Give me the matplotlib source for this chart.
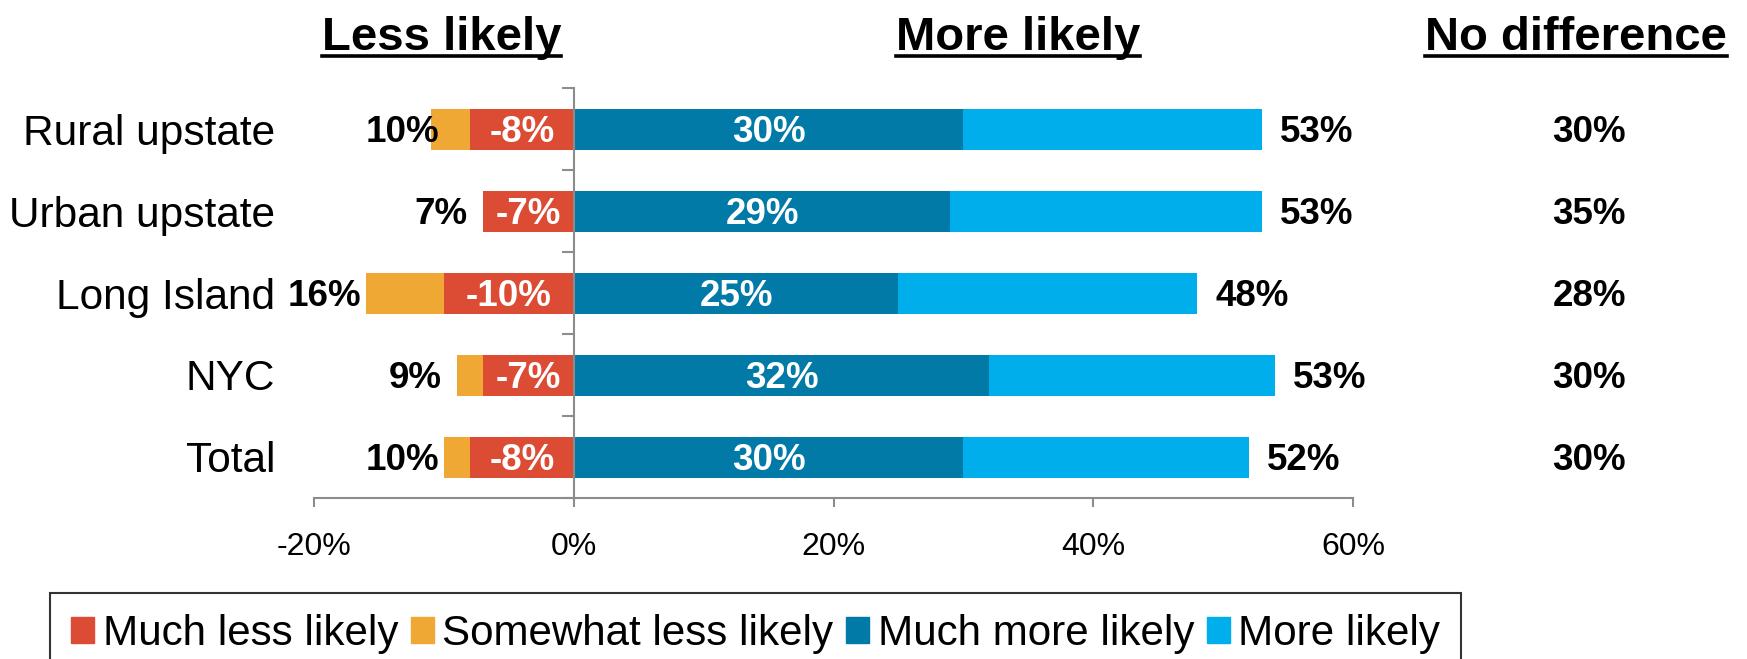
import numpy as np
import matplotlib
matplotlib.use("Agg")
import matplotlib.pyplot as plt
from matplotlib.lines import Line2D
from matplotlib.patches import Patch

plt.rcParams['font.family'] = ['Liberation Sans', 'DejaVu Sans']

# data (top to bottom)
regions = ["Rural upstate", "Urban upstate", "Long Island", "NYC", "Total"]
much_less = [8, 7, 10, 7, 8]
somewhat_less = [3, 0, 6, 2, 2]
much_more = [30, 29, 25, 32, 30]
more = [23, 24, 23, 22, 22]
less_total = [10, 7, 16, 9, 10]
more_total = [53, 53, 48, 53, 52]
no_diff = [30, 35, 28, 30, 30]

c_red = "#DC4B34"
c_orange = "#EEA833"
c_dark = "#017AA8"
c_light = "#00AEEC"
grey = "#8C8C8C"

y = np.arange(len(regions))
ml = -np.array(much_less)
sl = -np.array(somewhat_less)
mm = np.array(much_more)
mo = np.array(more)

fig = plt.figure(figsize=(17.47, 6.59), dpi=100)
ax = fig.add_axes([314/1747, 1-498/659, 1039/1747, 410/659])

h = 0.5
ax.barh(y, ml, height=h, color=c_red, edgecolor="none")
ax.barh(y, sl, left=ml, height=h, color=c_orange, edgecolor="none")
ax.barh(y, mm, height=h, color=c_dark, edgecolor="none")
ax.barh(y, mo, left=mm, height=h, color=c_light, edgecolor="none")

ax.set_xlim(-20, 60)
ax.set_ylim(len(regions) - 0.5, -0.5)

# axes look
for s in ["top", "right"]:
    ax.spines[s].set_visible(False)
ax.spines["left"].set_position(("data", 0))
ax.spines["left"].set_color(grey)
ax.spines["bottom"].set_color(grey)
ax.spines["left"].set_linewidth(1.5)
ax.spines["bottom"].set_linewidth(1.5)

ax.set_xticks([-20, 0, 20, 40, 60])
ax.set_xticklabels(["-20%", "0%", "20%", "40%", "60%"])
ax.tick_params(axis="x", length=6.5, width=1.5, color=grey, labelsize=23, pad=18)
ax.set_yticks(np.arange(len(regions) + 1) - 0.5)
ax.set_yticklabels([])
ax.tick_params(axis="y", length=8.5, width=1.5, color=grey)

# labels
fs = 26.5
for i in range(len(regions)):
    ax.text(-23, y[i], regions[i], ha="right", va="center_baseline", fontsize=30.5, clip_on=False)
    ax.text(ml[i] / 2, y[i], f"-{much_less[i]}%", ha="center", va="center_baseline",
            fontsize=fs, fontweight="bold", color="white")
    ax.text(mm[i] / 2, y[i], f"{much_more[i]}%", ha="center", va="center_baseline",
            fontsize=fs, fontweight="bold", color="white")
    ax.text(-less_total[i] - 3.2, y[i], f"{less_total[i]}%", ha="center", va="center_baseline",
            fontsize=fs, fontweight="bold")
    ax.text(mm[i] + mo[i] + 1.4, y[i], f"{more_total[i]}%", ha="left", va="center_baseline",
            fontsize=fs, fontweight="bold")
    ax.text(78.2, y[i], f"{no_diff[i]}%", ha="center", va="center_baseline",
            fontsize=fs, fontweight="bold", clip_on=False)

# headers with underline
trans = matplotlib.transforms.blended_transform_factory(ax.transData, fig.transFigure)
headers = []
for xh, txt in [(-10.2, "Less likely"), (34.2, "More likely"), (77.2, "No difference")]:
    headers.append(ax.text(xh, 1 - 50/659, txt, ha="center", va="baseline",
                           fontsize=34, fontweight="bold", transform=trans, clip_on=False))

fig.canvas.draw()
r = fig.canvas.get_renderer()
for t in headers:
    bb = t.get_window_extent(r)
    x0, x1 = bb.x0 / fig.bbox.width, bb.x1 / fig.bbox.width
    fig.add_artist(Line2D([x0, x1], [1 - 56/659, 1 - 56/659], color="black",
                          linewidth=2.6, transform=fig.transFigure))

handles = [Patch(color=c_red), Patch(color=c_orange), Patch(color=c_dark), Patch(color=c_light)]
names = ["Much less likely", "Somewhat less likely", "Much more likely", "More likely"]
leg = fig.legend(handles, names, loc="upper left", bbox_to_anchor=(50/1747, 1 - 593/659),
                 ncol=4, fontsize=30.3, frameon=True, fancybox=False, edgecolor="black",
                 handlelength=0.55, handleheight=0.55, handletextpad=0.2,
                 columnspacing=0.3, borderpad=0.5, borderaxespad=0)
leg.get_frame().set_linewidth(1.5)

fig.savefig("out.png", dpi=100)
